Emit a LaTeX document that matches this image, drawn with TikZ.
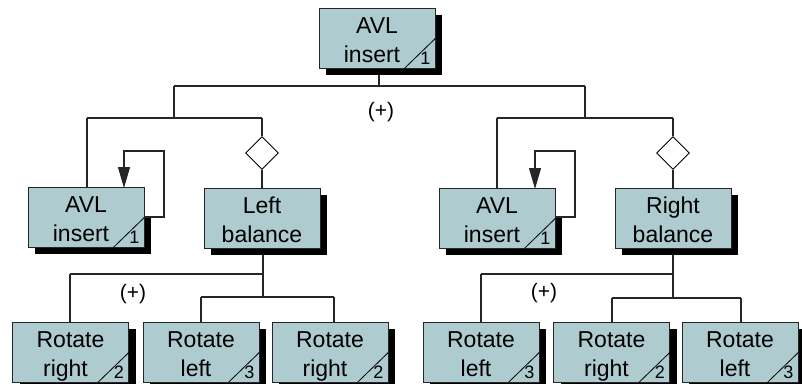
\documentclass[tikz,border=0pt]{standalone}
\usepackage{fontspec}
\setmainfont{Liberation Sans}
\usetikzlibrary{shapes.geometric,shadows,arrows.meta}
\definecolor{boxfill}{RGB}{174,203,207}
\newcommand\boxnum[2]{%
  \draw[line width=0.8pt] ([xshift=-31pt]#1.south east) -- ([yshift=30pt]#1.south east);
  \node[font=\fontsize{18}{18}\selectfont, inner sep=0pt] (#1num) at ([xshift=-10pt,yshift=10pt]#1.south east) {#2};}
\newcommand\twoline[2]{\rule{0pt}{25pt}#1\\#2\rule[-6pt]{0pt}{6pt}}
\begin{document}
\begin{tikzpicture}[x=1pt,y=-1pt,
  mbox/.style={rectangle, draw=black!85, line width=0.8pt, fill=boxfill,
    minimum width=116pt, minimum height=58pt, inner sep=0pt, align=center,
    font=\fontsize{23}{29}\selectfont,
    drop shadow={shadow xshift=7pt, shadow yshift=-7pt, fill=black, opacity=1}},
  conn/.style={line width=1.1pt, draw=black!85},
  sel/.style={diamond, draw=black, line width=0.9pt, fill=white, minimum width=33pt, minimum height=33pt, inner sep=0pt},
  plus/.style={font=\fontsize{21}{21}\selectfont, inner sep=0pt}]
\useasboundingbox (0,0) rectangle (802,383);

% junction coordinates
\coordinate (j0) at (379,86);
\coordinate (jL0) at (174,86);
\coordinate (jR0) at (585,86);
\coordinate (jL1) at (174,118);
\coordinate (jR1) at (585,118);
\coordinate (aL) at (87,118);
\coordinate (dLt) at (262,118);
\coordinate (aR) at (497,118);
\coordinate (dRt) at (673,118);
\coordinate (lbA) at (263,274);
\coordinate (lbB) at (263,297);
\coordinate (lb1) at (70,274);
\coordinate (lb2) at (201,297);
\coordinate (lb3) at (334,297);
\coordinate (rbA) at (673,274);
\coordinate (rbB) at (673,298);
\coordinate (rb1) at (481,274);
\coordinate (rb2) at (612,298);
\coordinate (rb3) at (741,298);
\coordinate (lpL1) at (164,217);
\coordinate (lpL2) at (164,151);
\coordinate (lpL3) at (124,151);
\coordinate (lpR1) at (575,217);
\coordinate (lpR2) at (575,151);
\coordinate (lpR3) at (535,151);

% diamonds
\node[sel] (dL) at (262,153) {};
\node[sel] (dR) at (673,153) {};

% connectors (drawn before boxes)
\draw[conn] (379,67) -- (j0);
\draw[conn] (jL0) -- (jR0);
\draw[conn] (jL0) -- (jL1);
\draw[conn] (jR0) -- (jR1);
\draw[conn] (aL) -- (dLt);
\draw[conn] (aR) -- (dRt);
\draw[conn] (aL) -- (87,188);
\draw[conn] (dLt) -- (dL.north);
\draw[conn] (dL.south) -- (262,189);
\draw[conn] (aR) -- (497,189);
\draw[conn] (dRt) -- (dR.north);
\draw[conn] (dR.south) -- (673,190);
\draw[conn] (263,247) -- (lbB);
\draw[conn] (lb1) -- (lbA);
\draw[conn] (lb2) -- (lb3);
\draw[conn] (lb1) -- (70,323);
\draw[conn] (lb2) -- (201,323);
\draw[conn] (lb3) -- (334,323);
\draw[conn] (673,247) -- (rbB);
\draw[conn] (rb1) -- (rbA);
\draw[conn] (rb2) -- (rb3);
\draw[conn] (rb1) -- (481,323);
\draw[conn] (rb2) -- (612,323);
\draw[conn] (rb3) -- (741,323);

% boxes
\node[mbox] (top) at (377,38) {\twoline{AVL}{insert\hspace*{10pt}}};
\node[mbox] (avlL) at (86,217) {\twoline{AVL}{insert\hspace*{10pt}}};
\node[mbox] (lbal) at (262,218) {\twoline{Left}{balance}};
\node[mbox] (avlR) at (497,218) {\twoline{AVL}{insert\hspace*{10pt}}};
\node[mbox] (rbal) at (673,218) {\twoline{Right}{balance}};
\node[mbox] (b1) at (70.5,352) {\twoline{Rotate}{right\hspace*{10pt}}};
\node[mbox] (b2) at (201,352) {\twoline{Rotate}{left\hspace*{10pt}}};
\node[mbox] (b3) at (330,352) {\twoline{Rotate}{right\hspace*{10pt}}};
\node[mbox] (b4) at (481,352) {\twoline{Rotate}{left\hspace*{10pt}}};
\node[mbox] (b5) at (611.5,352) {\twoline{Rotate}{right\hspace*{10pt}}};
\node[mbox] (b6) at (740,352) {\twoline{Rotate}{left\hspace*{10pt}}};

\boxnum{top}{1}
\boxnum{avlL}{1}
\boxnum{avlR}{1}
\boxnum{b1}{2}
\boxnum{b2}{3}
\boxnum{b3}{2}
\boxnum{b4}{3}
\boxnum{b5}{2}
\boxnum{b6}{3}

% shadow cleared above the recursion loops
\fill[white] ([xshift=0.5pt]avlL.north east) rectangle ([xshift=9pt]avlL.east |- lpL1);
\fill[white] ([xshift=0.5pt]avlR.north east) rectangle ([xshift=9pt]avlR.east |- lpR1);

% recursion loops
\draw[conn, -{Triangle[length=21pt,width=12pt]}] (avlL.east |- lpL1) -- (lpL1) -- (lpL2) -- (lpL3) -- (124,188);
\draw[conn, -{Triangle[length=21pt,width=12pt]}] (avlR.east |- lpR1) -- (lpR1) -- (lpR2) -- (lpR3) -- (535,189);

% (+) labels
\node[plus] (p0) at (381,112) {(+)};
\node[plus] (p1) at (133,294) {(+)};
\node[plus] (p2) at (544,293) {(+)};
\end{tikzpicture}
\end{document}
